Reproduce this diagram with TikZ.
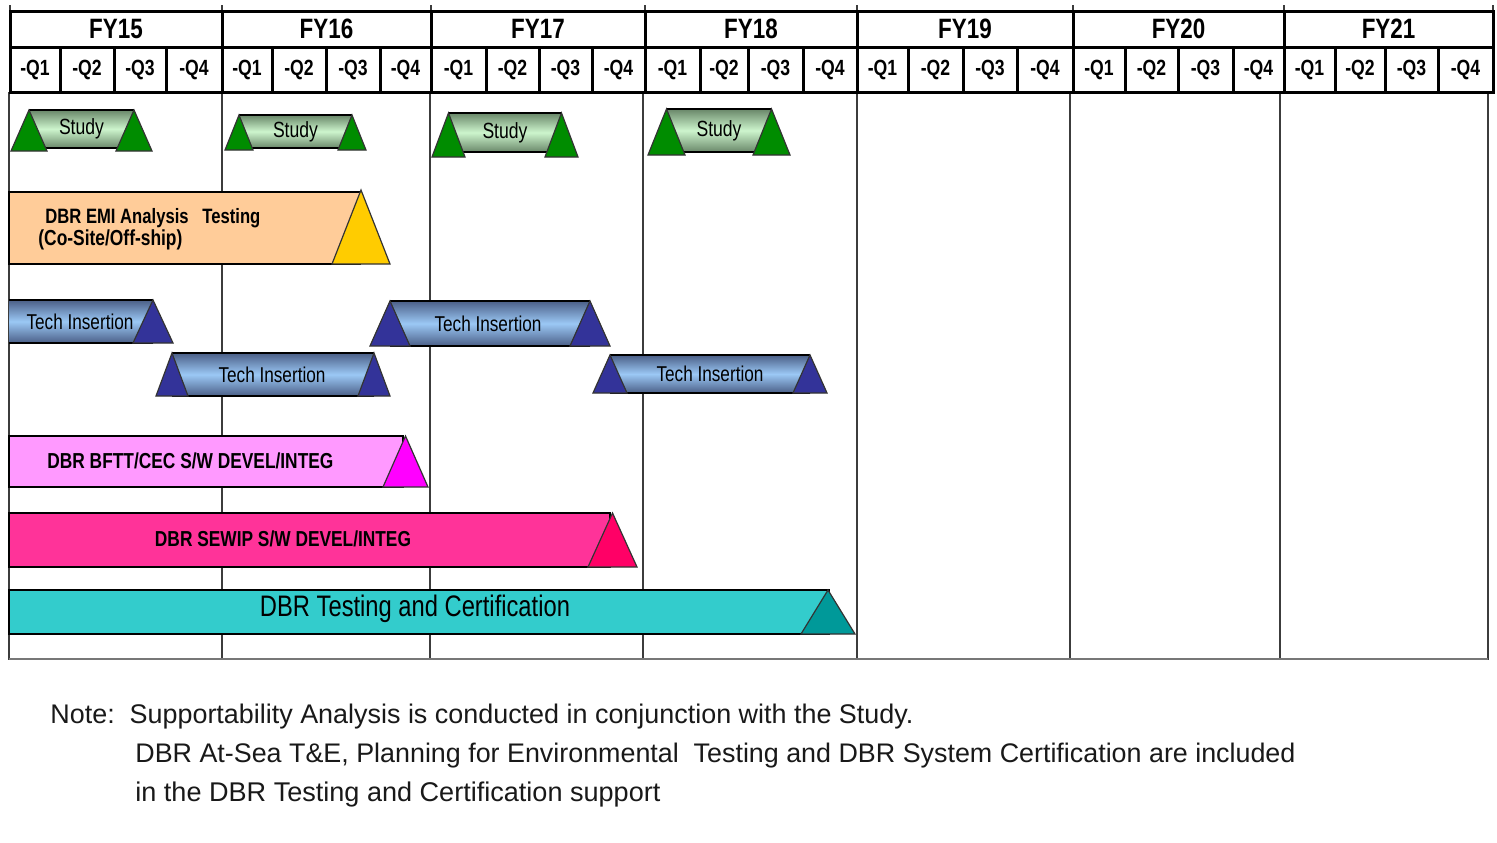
\documentclass[tikz,border=0pt]{standalone}
\usepackage{fontspec}
\setmainfont{Liberation Sans}
\newfontfamily\nar[FakeStretch=0.8]{Liberation Sans}
\usepackage{graphicx}
\definecolor{stri}{RGB}{0,140,0}
\definecolor{sbarA}{RGB}{105,135,105}
\definecolor{sbarB}{RGB}{205,245,205}
\definecolor{ttri}{RGB}{51,51,153}
\definecolor{tbarA}{RGB}{75,95,135}
\definecolor{tbarB}{RGB}{155,200,245}
\definecolor{emibar}{RGB}{255,204,153}
\definecolor{emitri}{RGB}{255,204,0}
\definecolor{bfbar}{RGB}{255,153,255}
\definecolor{bftri}{RGB}{255,0,255}
\definecolor{sebar}{RGB}{255,51,153}
\definecolor{setri}{RGB}{255,0,102}
\definecolor{tcbar}{RGB}{51,204,204}
\definecolor{tctri}{RGB}{0,153,153}
\definecolor{gridg}{RGB}{60,60,60}
\definecolor{txt}{RGB}{25,25,25}
\newcommand\fw[2]{\resizebox{#1pt}{!}{#2}}
% triangle: fill, x-left base, x-right base, y base, y apex
\newcommand\mytri[5]{\filldraw[tri,fill=#1] (#2,#4) -- (#3,#4) -- ({(#2+#3)/2},#5) -- cycle;}
\begin{document}
\begin{tikzpicture}[x=0.5pt,y=-0.5pt,
  hdr/.style={line width=1.5pt,black},
  grid/.style={line width=1.1pt,gridg},
  barline/.style={line width=1.3pt,black},
  tri/.style={line width=0.6pt,draw=black!80},
  fylbl/.style={font=\nar\bfseries\fontsize{14}{16}\selectfont,inner sep=0pt},
  qlbl/.style={font=\nar\bfseries\fontsize{11}{13}\selectfont,inner sep=0pt},
  blbl/.style={font=\nar,inner sep=0pt},
  bblbl/.style={font=\nar\bfseries,inner sep=0pt},
  note/.style={inner sep=0pt,anchor=base west,text=txt}]
\useasboundingbox (0,0) rectangle (1497,842);
\fill[white] (0,0) rectangle (1497,842);
% ---------- body grid ----------
\foreach \x in {9,222,430,643,857,1070,1280,1488}
  \draw[grid] (\x,92) -- (\x,660);
\draw[grid,gridg!70] (9,659) -- (1488,659);
% ---------- header ----------
\foreach \x in {10,222,431,645,857,1073,1284,1493}
  \draw[grid] (\x,5) -- (\x,11);
\draw[hdr] (10,11) rectangle (1493,92);
\draw[hdr] (10,47) -- (1493,47);
\foreach \x in {222,431,645,857,1073,1284}
  \draw[hdr] (\x,11) -- (\x,92);
\foreach \x in {60,114,166,272,326,380,486,539,592,700,748,803,908,963,1017,1125,1178,1233,1335,1385,1438}
  \draw[hdr] (\x,47) -- (\x,92);
\foreach \a/\b/\t [count=\i] in {10/222/FY15,222/431/FY16,431/645/FY17,645/857/FY18,857/1073/FY19,1073/1284/FY20,1284/1493/FY21}
  \node[fylbl] (fy\i) at ({(\a+\b)/2},29) {\t};
\foreach \a/\b/\t [count=\i] in {10/60/-Q1,60/114/-Q2,114/166/-Q3,166/222/-Q4,
  222/272/-Q1,272/326/-Q2,326/380/-Q3,380/431/-Q4,
  431/486/-Q1,486/539/-Q2,539/592/-Q3,592/645/-Q4,
  645/700/-Q1,700/748/-Q2,748/803/-Q3,803/857/-Q4,
  857/908/-Q1,908/963/-Q2,963/1017/-Q3,1017/1073/-Q4,
  1073/1125/-Q1,1125/1178/-Q2,1178/1233/-Q3,1233/1284/-Q4,
  1284/1335/-Q1,1335/1385/-Q2,1385/1438/-Q3,1438/1493/-Q4}
  \node[qlbl] (q\i) at ({(\a+\b)/2},70) {\t};
% ---------- Study bars ----------
\foreach \xl/\xr/\yt/\yb/\w/\yr [count=\i] in {11/152/110/151/36/148,225/366/115/150/28/148,432/578/113/157/33/152,648/790/109/155/37/152}{
  \shade[top color=sbarA,bottom color=sbarA,middle color=sbarB] ({\xl+\w/2},\yt) rectangle ({\xr-\w/2},\yr);
  \draw[barline] ({\xl+\w/2},\yt) -- ({\xr-\w/2},\yt);
  \draw[barline] ({\xl+\w/2},\yr) -- ({\xr-\w/2},\yr);
  \mytri{stri}{\xl}{\xl+\w}{\yb}{\yt}
  \mytri{stri}{\xr-\w}{\xr}{\yb}{\yt}
  \node[blbl] (study\i) at ({(\xl+\xr)/2},{(\yt+\yr)/2}) {\fw{22.5}{Study}};
}
% ---------- EMI ----------
\filldraw[barline,fill=emibar] (9,192) rectangle (360,264);
\mytri{emitri}{332}{390}{264}{190}
\node[bblbl,anchor=base west] (emi1) at (45,223) {\fw{107.5}{DBR EMI Analysis\ \ \ Testing}};
\node[bblbl,anchor=base west] (emi2) at (38,245) {\fw{72}{(Co-Site/Off-ship)}};
% ---------- Tech Insertion ----------
\shade[top color=tbarA,bottom color=tbarA,middle color=tbarB] (9,300) rectangle (153,343);
\draw[barline] (9,300) -- (153,300) (9,343) -- (153,343);
\mytri{ttri}{133}{173}{343}{300}
\node[blbl] (tech1) at (80,322) {\fw{53.5}{Tech Insertion}};
\foreach \xl/\xr/\yt/\yb/\w/\cx [count=\i from 2] in {156/390/353/396/32/272,370/610/301/346/40/488,593/827/355/393/34/710}{
  \shade[top color=tbarA,bottom color=tbarA,middle color=tbarB] ({\xl+\w/2},\yt) rectangle ({\xr-\w/2},\yb);
  \draw[barline] ({\xl+\w/2},\yt) -- ({\xr-\w/2},\yt) ({\xl+\w/2},\yb) -- ({\xr-\w/2},\yb);
  \mytri{ttri}{\xl}{\xl+\w}{\yb}{\yt}
  \mytri{ttri}{\xr-\w}{\xr}{\yb}{\yt}
  \node[blbl] (tech\i) at (\cx,{(\yt+\yb)/2}) {\fw{53.5}{Tech Insertion}};
}
% ---------- BFTT ----------
\filldraw[barline,fill=bfbar] (9,436) rectangle (403,487);
\mytri{bftri}{383}{428}{487}{436}
\node[bblbl,anchor=west] (bftt) at (47,461) {\fw{143}{DBR BFTT/CEC S/W DEVEL/INTEG}};
% ---------- SEWIP ----------
\filldraw[barline,fill=sebar] (9,513) rectangle (610,567);
\mytri{setri}{588}{637}{567}{513}
\node[bblbl] (sewip) at (283,539) {\fw{128}{DBR SEWIP S/W DEVEL/INTEG}};
% ---------- Testing and Certification ----------
\filldraw[barline,fill=tcbar] (9,590) rectangle (829,634);
\mytri{tctri}{801}{855}{634}{590}
\node[blbl] (tc) at (415,609) {\fw{155}{DBR Testing and Certification}};
% ---------- notes ----------
\node[note] (n1) at (50,723) {\fw{431.5}{Note:\ \ Supportability Analysis is conducted in conjunction with the Study.}};
\node[note] (n2) at (135,762) {\fw{580}{DBR At-Sea T\&E, Planning for Environmental\ \ Testing and DBR System Certification are included}};
\node[note] (n3) at (135,801) {\fw{262.5}{in the DBR Testing and Certification support}};
\end{tikzpicture}
\end{document}
